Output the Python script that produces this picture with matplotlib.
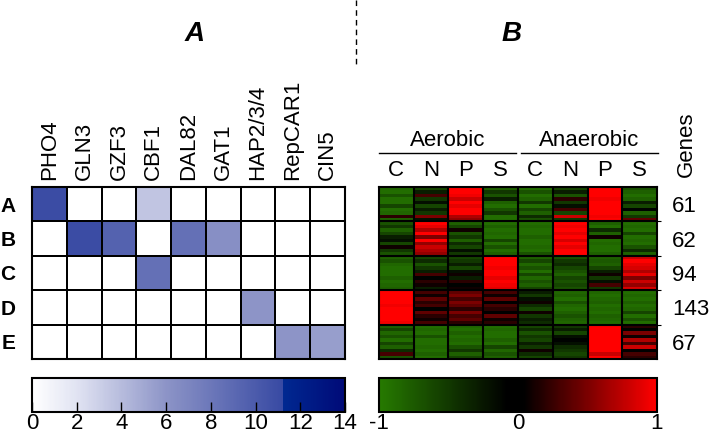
import numpy as np
import matplotlib
matplotlib.use("Agg")
from matplotlib import pyplot as plt
from matplotlib.colors import LinearSegmentedColormap, Normalize
from matplotlib.cm import ScalarMappable
from matplotlib.lines import Line2D

plt.rcParams['font.family'] = ['Liberation Sans', 'DejaVu Sans']
plt.rcParams['axes.unicode_minus'] = False

# ---- panel A data: motif enrichment per cluster
factors = ['PHO4', 'GLN3', 'GZF3', 'CBF1', 'DAL82', 'GAT1', 'HAP2/3/4', 'RepCAR1', 'CIN5']
clusters = ['A', 'B', 'C', 'D', 'E']
rowA = [11.0, 0, 0, 3.5, 0, 0, 0, 0, 0]
rowB = [0, 11.0, 9.5, 0, 8.5, 6.3, 0, 0, 0]
rowC = [0, 0, 0, 8.5, 0, 0, 0, 0, 0]
rowD = [0, 0, 0, 0, 0, 0, 6.0, 0, 0]
rowE = [0, 0, 0, 0, 0, 0, 0, 6.0, 5.5]

# ---- panel B data: expression stripes per cluster (rows) and condition (cols)
conditions = ['C', 'N', 'P', 'S', 'C', 'N', 'P', 'S']
gene_counts = [61, 62, 94, 143, 67]
# each list: one condition column, a few stripes read top to bottom
expA = [
    [-0.85, -0.9, -0.7, -0.9, -0.9, -0.6, -0.9, -0.85, 0.2, -0.8],
    [-0.6, -0.3, 0.3, -0.5, -0.2, -0.6, -0.3, -0.5, 0.5, -0.2],
    [1, 1, 0.95, 0.8, 1, 0.9, 1, 1, 0.7, 0.6],
    [-0.8, -0.5, -0.7, -0.3, -0.8, -0.9, -0.7, -0.5, -0.9, -0.9],
    [-0.9, -0.7, -0.9, -0.8, -0.5, -0.9, -0.6, -0.8, -0.4, -0.7],
    [-0.6, -0.3, -0.7, 0.2, -0.5, -0.2, 0.3, -0.6, 0.8, -0.5],
    [1, 1, 1, 0.95, 1, 1, 1, 1, 0.95, 1],
    [-0.7, -0.8, -0.9, -0.8, -0.3, -0.6, -0.1, -0.8, -0.5, 0.4],
]
expB = [
    [-0.7, -0.5, -0.8, -0.6, -0.3, -0.2, -0.6, 0.1, -0.5, -0.7],
    [1, 0.9, 0.7, 1, 0.5, 1, 0.6, 0.8, 0.7, 0.6],
    [-0.8, -0.6, 0.1, -0.7, -0.5, -0.8, -0.4, -0.6, -0.2, -0.5],
    [-0.9, -0.8, -0.9, -0.85, -0.9, -0.6, -0.9, -0.7, -0.9, -0.8],
    [-0.9, -0.85, -0.9, -0.9, -0.8, -0.9, -0.9, -0.85, -0.9, -0.7],
    [1, 0.95, 1, 0.9, 1, 0.85, 1, 0.9, 1, 1],
    [-0.8, -0.9, -0.4, -0.8, 0.1, -0.9, -0.85, -0.9, -0.9, -0.8],
    [-0.9, -0.85, -0.9, -0.6, -0.9, -0.85, -0.9, -0.7, -0.4, -0.8],
]
expC = [
    [-0.8, -0.7, -0.85, -0.9, -0.9, -0.9, -0.8, -0.9, -0.85, -0.8],
    [-0.6, -0.4, -0.7, -0.5, -0.3, 0.3, -0.1, 0.2, 0.1, -0.3],
    [-0.6, -0.5, -0.3, -0.6, -0.2, 0.1, -0.3, 0.2, -0.1, 0.1],
    [1, 1, 1, 0.95, 1, 1, 0.9, 1, 0.95, 0.9],
    [-0.8, -0.6, -0.85, -0.7, -0.9, -0.6, -0.85, -0.7, -0.8, -0.6],
    [-0.7, -0.5, -0.4, -0.6, -0.7, -0.8, -0.6, -0.7, -0.6, -0.7],
    [-0.8, -0.75, -0.8, -0.6, -0.3, 0.1, -0.5, -0.2, 0.3, -0.5],
    [0.8, 1, 0.9, 0.85, 0.7, 0.9, 0.5, 0.8, 0.6, 0.85],
]
expD = [
    [1, 1, 1, 1, 0.95, 1, 1, 1, 1, 0.95],
    [0.3, 0.1, 0.4, 0.2, 0.3, -0.1, 0.4, 0.2, 0.1, 0.3],
    [0.4, 0.5, 0.3, 0.5, 0.4, 0.2, 0.5, 0.3, 0.4, 0.2],
    [0.3, 0.1, 0.4, 0.0, 0.3, 0.2, 0.0, 0.4, 0.1, 0.2],
    [-0.3, -0.5, -0.2, 0.1, -0.4, -0.6, 0.1, -0.5, -0.3, -0.4],
    [-0.85, -0.8, -0.9, -0.7, -0.85, -0.9, -0.8, -0.7, -0.8, -0.85],
    [-0.85, -0.9, -0.85, -0.8, -0.9, -0.85, -0.9, -0.8, -0.85, -0.9],
    [-0.9, -0.85, -0.9, -0.8, -0.9, -0.85, -0.6, -0.9, -0.7, -0.9],
]
expE = [
    [-0.8, -0.6, -0.85, -0.7, -0.9, -0.6, -0.8, -0.4, 0.3, -0.7],
    [-0.9, -0.85, -0.9, -0.7, -0.9, -0.9, -0.85, -0.9, -0.8, -0.9],
    [-0.85, -0.9, -0.8, -0.9, -0.85, -0.9, -0.7, -0.5, -0.8, -0.6],
    [-0.9, -0.85, -0.9, -0.9, -0.8, -0.9, -0.6, -0.85, -0.7, -0.8],
    [-0.6, -0.4, -0.7, -0.5, -0.6, -0.3, -0.5, 0.1, -0.4, -0.6],
    [-0.5, -0.3, -0.6, -0.2, -0.1, -0.2, -0.4, -0.5, -0.6, -0.5],
    [1, 1, 1, 1, 1, 1, 1, 1, 0.8, 1],
    [0.2, -0.1, 0.5, 0.1, 0.7, 0.3, 0.8, 0.0, 0.3, 0.2],
]

W, H = 709, 437


def fx(x):
    return x / W


def fy(y):
    return 1 - y / H


def rect(x0, y0, x1, y1):
    return [fx(x0), fy(y1), fx(x1) - fx(x0), fy(y0) - fy(y1)]


blues = LinearSegmentedColormap.from_list('blues', [
    (0.0, (1, 1, 1)),
    (2 / 14, (0.88, 0.89, 0.95)),
    (6 / 14, (0.55, 0.58, 0.78)),
    (11.2 / 14, (0.22, 0.29, 0.64)),
    (11.21 / 14, (0.0, 0.16, 0.57)),
    (1.0, (0.0, 0.04, 0.47)),
])
grn = (0.15, 0.48, 0.0)
rg = LinearSegmentedColormap.from_list('rg', [
    (0.0, grn), (0.46, (0, 0, 0)), (0.52, (0, 0, 0)), (1.0, (1, 0, 0))])

fig = plt.figure(figsize=(W / 100, H / 100), dpi=100)

# ---------------- panel A
axA = fig.add_axes(rect(32, 187, 345, 359))
matA = np.array([rowA, rowB, rowC, rowD, rowE])
axA.pcolormesh(matA, cmap=blues, vmin=0, vmax=14, edgecolors='black', linewidth=1.3)
axA.set_xlim(0, len(factors))
axA.set_ylim(len(clusters), 0)
axA.xaxis.tick_top()
axA.set_xticks(np.arange(len(factors)) + 0.5)
axA.set_xticklabels(factors, rotation=90, fontsize=16)
axA.set_yticks(np.arange(len(clusters)) + 0.5)
axA.set_yticklabels(clusters, fontsize=15, fontweight='bold')
axA.tick_params(axis='x', length=0, pad=5)
axA.tick_params(axis='y', length=0, pad=12)
for s in axA.spines.values():
    s.set_linewidth(1.5)

# ---------------- panel B
axB = fig.add_axes(rect(379, 187, 657, 359))
matB = np.vstack([np.array(e).T for e in [expA, expB, expC, expD, expE]])
axB.imshow(matB, cmap=rg, vmin=-1, vmax=1, aspect='auto', interpolation='nearest',
           extent=[0, len(conditions), len(gene_counts), 0])
for i in range(1, len(conditions)):
    axB.axvline(i, color='black', lw=1.5)
for j in range(1, len(gene_counts)):
    axB.axhline(j, color='black', lw=1.5)
axB.set_xlim(0, len(conditions))
axB.set_ylim(len(gene_counts), 0)
axB.xaxis.tick_top()
axB.set_xticks(np.arange(len(conditions)) + 0.5)
axB.set_xticklabels(conditions, fontsize=16)
axB.tick_params(axis='x', length=0, pad=4)
axB.yaxis.tick_right()
axB.set_yticks(np.arange(1, len(gene_counts)))
axB.set_yticklabels([])
axB.set_yticks(np.arange(len(gene_counts)) + 0.5, minor=True)
axB.set_yticklabels([str(g) for g in gene_counts], minor=True, fontsize=16)
axB.tick_params(axis='y', which='major', length=3, width=0.8)
axB.tick_params(axis='y', which='minor', length=0, pad=11)
for s in axB.spines.values():
    s.set_linewidth(1.5)

# headers over B
fig.text(fx(448), fy(140), 'Aerobic', fontsize=16, ha='center', va='center')
fig.text(fx(589), fy(140), 'Anaerobic', fontsize=16, ha='center', va='center')
fig.add_artist(Line2D([fx(379), fx(516)], [fy(153), fy(153)], color='black', lw=1))
fig.add_artist(Line2D([fx(521), fx(658)], [fy(153), fy(153)], color='black', lw=1))
fig.text(fx(686), fy(144), 'Genes', fontsize=16, rotation=90, ha='center', va='center')

# panel titles and separator
fig.text(fx(195), fy(34), 'A', fontsize=20, fontweight='bold', fontstyle='italic',
         ha='center', va='center')
fig.text(fx(512), fy(34), 'B', fontsize=20, fontweight='bold', fontstyle='italic',
         ha='center', va='center')
fig.add_artist(Line2D([fx(356), fx(356)], [fy(0), fy(66)], color='black', lw=1,
                      linestyle=(0, (4, 3))))

# ---------------- colorbars
caxA = fig.add_axes(rect(32, 378, 345, 412))
cbA = fig.colorbar(ScalarMappable(Normalize(0, 14), blues), cax=caxA, orientation='horizontal')
cbA.set_ticks(np.arange(0, 15, 2))
cbA.ax.tick_params(direction='in', length=7, width=1, labelsize=16, pad=0.5)
cbA.outline.set_linewidth(1.5)

caxB = fig.add_axes(rect(379, 378, 657, 412))
cbB = fig.colorbar(ScalarMappable(Normalize(-1, 1), rg), cax=caxB, orientation='horizontal')
cbB.set_ticks([-1, 0, 1])
cbB.ax.tick_params(length=0, labelsize=16, pad=0.5)
cbB.outline.set_linewidth(1.5)

fig.savefig('out.png', dpi=100)
